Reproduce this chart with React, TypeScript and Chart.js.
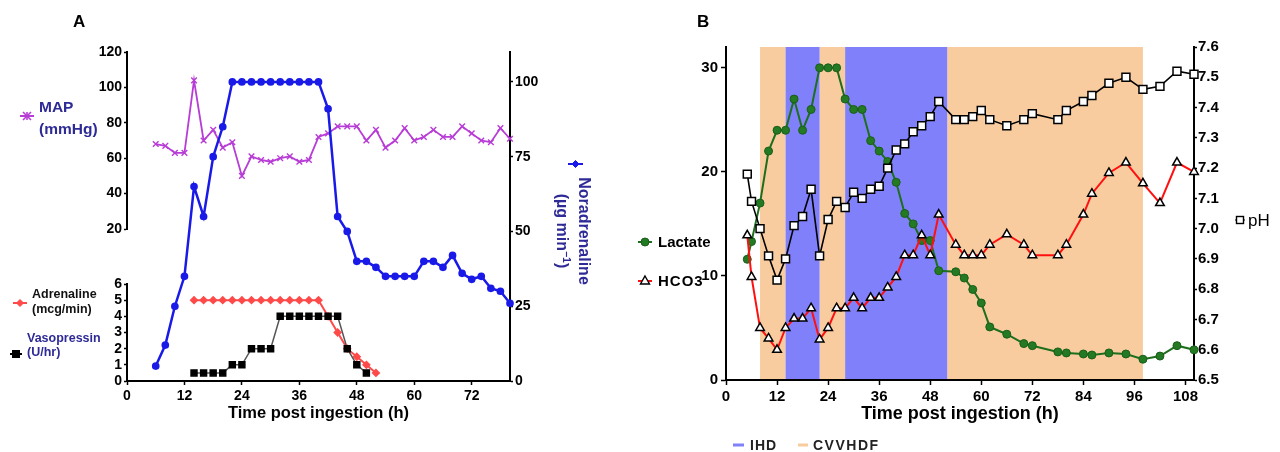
import React, { useEffect, useRef } from "react";
import { Chart, registerables } from "chart.js";
Chart.register(...registerables);

const FONT = "Arial, 'Liberation Sans', Helvetica, sans-serif";

// ---------------- Panel A data ----------------
const aTicksX = [0, 12, 24, 36, 48, 60, 72];
const aTicksMAP = [20, 40, 60, 80, 100, 120];
const aTicksDrug = [0, 1, 2, 3, 4, 5, 6];
const aTicksNor = [0, 25, 50, 75, 100];

const mapHours = [6, 8, 10, 12, 14, 16, 18, 20, 22, 24, 26, 28, 30, 32, 34, 36, 38, 40, 42, 44, 46, 48, 50, 52, 54, 56, 58, 60, 62, 64, 66, 68, 70, 72, 74, 76, 78, 80];
const mapValues = [68, 67, 63, 63, 104, 70, 76, 66, 69, 50, 61, 59, 58, 60, 61, 58, 59, 72, 74, 78, 78, 78, 70, 76, 66, 70, 77, 70, 72, 76, 72, 72, 78, 74, 70, 69, 77, 71];

const norHours = [6, 8, 10, 12, 14, 16, 18, 20, 22, 24, 26, 28, 30, 32, 34, 36, 38, 40, 42, 44, 46, 48, 50, 52, 54, 56, 58, 60, 62, 64, 66, 68, 70, 72, 74, 76, 78, 80];
const norValues = [5, 12, 25, 35, 65, 55, 75, 85, 100, 100, 100, 100, 100, 100, 100, 100, 100, 100, 91, 55, 50, 40, 40, 38, 35, 35, 35, 35, 40, 40, 38, 42, 36, 34, 35, 31, 30, 26];

const adrHours = [14, 16, 18, 20, 22, 24, 26, 28, 30, 32, 34, 36, 38, 40, 42, 44, 46, 48, 50, 52];
const adrValues = [5, 5, 5, 5, 5, 5, 5, 5, 5, 5, 5, 5, 5, 5, 4, 3, 2, 1.5, 1, 0.5];

const vasoHours = [14, 16, 18, 20, 22, 24, 26, 28, 30, 32, 34, 36, 38, 40, 42, 44, 46, 48, 50];
const vasoValues = [0.5, 0.5, 0.5, 0.5, 1, 1, 2, 2, 2, 4, 4, 4, 4, 4, 4, 4, 2, 1, 0.5];

// ---------------- Panel B data ----------------
const bTicksX = [0, 12, 24, 36, 48, 60, 72, 84, 96, 108];
const bTicksLeft = [0, 10, 20, 30];
const bTicksPH = [6.5, 6.6, 6.7, 6.8, 6.9, 7.0, 7.1, 7.2, 7.3, 7.4, 7.5, 7.6];

const bHours = [5, 6, 8, 10, 12, 14, 16, 18, 20, 22, 24, 26, 28, 30, 32, 34, 36, 38, 40, 42, 44, 46, 48, 50, 54, 56, 58, 60, 62, 66, 70, 72, 78, 80, 84, 86, 90, 94, 98, 102, 106, 110];
const lactateValues = [11.6, 13.3, 17, 22, 24, 24, 27, 24, 26, 30, 30, 30, 27, 26, 26, 23, 22, 21, 19, 16, 15, 13.4, 13.4, 10.5, 10.4, 9.8, 8.7, 7.4, 5.1, 4.4, 3.5, 3.3, 2.7, 2.6, 2.5, 2.4, 2.6, 2.5, 2.0, 2.3, 3.3, 2.9];
const hco3Values = [13.9, 9.9, 5, 4, 2.9, 5, 5.9, 5.9, 6.9, 3.9, 5, 6.9, 6.9, 7.9, 6.9, 7.9, 7.9, 8.9, 9.9, 12, 12, 13.9, 12, 15.9, 13, 12, 12, 12, 13, 14, 13, 12, 12, 13, 15.9, 17.9, 19.9, 20.9, 18.9, 17, 20.9, 20];
const phValues = [7.18, 7.09, 7.0, 6.91, 6.83, 6.9, 7.01, 7.04, 7.13, 6.91, 7.03, 7.09, 7.07, 7.12, 7.1, 7.13, 7.14, 7.2, 7.26, 7.28, 7.32, 7.34, 7.37, 7.42, 7.36, 7.36, 7.37, 7.39, 7.36, 7.34, 7.36, 7.38, 7.36, 7.39, 7.42, 7.44, 7.48, 7.5, 7.46, 7.47, 7.52, 7.51];

const ihdBands = [[14, 22], [28, 52]];
const cvvhdfBands = [[8, 14], [22, 28], [52, 98]];

// ---------------- styles ----------------
const IHD_COLOR = "#8080fb";
const CVV_COLOR = "#f9cc9f";
const NAVY = "#2e2a96";
const MAP_COLOR = "#b83cd6";
const NOR_COLOR = "#1a1ae8";
const ADR_COLOR = "#ff4a4a";
const LAC_COLOR = "#1d6e1d";

const pts = (xs: number[], ys: number[]) => xs.map((x, i) => ({ x, y: ys[i] }));
const fixedTicks = (vals: number[]) => (s: any) => {
  s.ticks = vals.map((v) => ({ value: v }));
};

function axis(vals: number[], size: number, tickLen: number, pad: number, fmt?: (v: number) => string) {
  return {
    border: { display: true, color: "#000", width: 2 },
    grid: {
      display: true,
      drawOnChartArea: false,
      drawTicks: true,
      tickLength: tickLen,
      tickWidth: 1.5,
      tickColor: "#000",
      color: "#000",
    },
    ticks: {
      color: "#000",
      font: { family: FONT, size, weight: "bold" },
      padding: pad,
      autoSkip: false,
      maxRotation: 0,
      callback: (v: any) => (fmt ? fmt(Number(v)) : String(v)),
    },
    afterBuildTicks: fixedTicks(vals),
  };
}

const bandPlugin = {
  id: "bands",
  beforeDraw(chart: any) {
    const { ctx, chartArea, scales } = chart;
    const x = scales.x;
    ctx.save();
    const draw = (bands: number[][], color: string) =>
      bands.forEach(([s, e]) => {
        const x1 = x.getPixelForValue(s);
        const x2 = x.getPixelForValue(e);
        ctx.fillStyle = color;
        ctx.fillRect(x1, chartArea.top, x2 - x1, chartArea.bottom - chartArea.top);
      });
    draw(cvvhdfBands, CVV_COLOR);
    draw(ihdBands, IHD_COLOR);
    ctx.restore();
  },
};

function PanelA() {
  const ref = useRef<HTMLCanvasElement>(null);
  useEffect(() => {
    const chart = new Chart(ref.current as HTMLCanvasElement, {
      type: "line",
      data: {
        datasets: [
          {
            label: "Noradrenaline",
            data: pts(norHours, norValues),
            yAxisID: "yNor",
            borderColor: NOR_COLOR,
            backgroundColor: NOR_COLOR,
            borderWidth: 2.5,
            pointRadius: 2.6,
            pointStyle: "circle",
            clip: false,
          } as any,
          {
            label: "Vasopressin",
            data: pts(vasoHours, vasoValues),
            yAxisID: "yDrug",
            borderColor: "#555555",
            borderWidth: 1.5,
            pointBackgroundColor: "#000",
            pointBorderColor: "#000",
            pointStyle: "rect",
            pointRadius: 4.2,
            clip: false,
          },
          {
            label: "Adrenaline",
            data: pts(adrHours, adrValues),
            yAxisID: "yDrug",
            borderColor: ADR_COLOR,
            backgroundColor: ADR_COLOR,
            borderWidth: 2,
            pointStyle: "rectRot",
            pointRadius: 3,
            clip: false,
          },
          {
            label: "MAP",
            data: pts(mapHours, mapValues),
            yAxisID: "yMAP",
            borderColor: MAP_COLOR,
            backgroundColor: MAP_COLOR,
            borderWidth: 1.8,
            pointStyle: "crossRot",
            pointRadius: 4,
            pointBorderWidth: 1.4,
            clip: false,
          },
        ],
      },
      options: {
        responsive: false,
        animation: false,
        devicePixelRatio: 1,
        events: [],
        layout: { padding: { top: 52, left: 0, right: 0, bottom: 0 } },
        plugins: { legend: { display: false }, tooltip: { enabled: false } },
        scales: {
          x: {
            type: "linear",
            min: 0,
            max: 80,
            ...axis(aTicksX, 14, 4, 3),
            afterFit: (s: any) => {
              s.height = 71;
            },
            title: {
              display: true,
              text: "Time post ingestion (h)",
              color: "#000",
              font: { family: FONT, size: 16.5, weight: "bold" },
              padding: { top: 0, bottom: 29 },
            },
          },
          yDrug: {
            type: "linear",
            position: "left",
            stack: "L",
            stackWeight: 97,
            min: 0,
            max: 6,
            ...axis(aTicksDrug, 14, 3, 2),
            afterFit: (s: any) => {
              s.width = 127;
            },
          },
          yGap: {
            type: "linear",
            position: "left",
            stack: "L",
            stackWeight: 55,
            min: 0,
            max: 1,
            border: { display: false },
            grid: { display: false },
            ticks: { display: false },
            afterFit: (s: any) => {
              s.width = 127;
            },
          },
          yMAP: {
            type: "linear",
            position: "left",
            stack: "L",
            stackWeight: 177,
            min: 20,
            max: 120,
            ...axis(aTicksMAP, 14, 3, 2),
            afterFit: (s: any) => {
              s.width = 127;
            },
          },
          yNor: {
            type: "linear",
            position: "right",
            min: 0,
            max: 110,
            ...axis(aTicksNor, 14, 3, 2),
            afterFit: (s: any) => {
              s.width = 130;
            },
          },
        } as any,
      },
    });
    return () => chart.destroy();
  }, []);
  return (
    <canvas
      ref={ref}
      width={640}
      height={452}
      style={{ position: "absolute", left: 0, top: 0, width: 640, height: 452 }}
    />
  );
}

function PanelB() {
  const ref = useRef<HTMLCanvasElement>(null);
  useEffect(() => {
    const chart = new Chart(ref.current as HTMLCanvasElement, {
      type: "line",
      data: {
        datasets: [
          {
            label: "pH",
            data: pts(bHours, phValues),
            yAxisID: "yR",
            borderColor: "#000",
            borderWidth: 1.6,
            pointStyle: "rect",
            pointRadius: 5.6,
            pointBackgroundColor: "#fff",
            pointBorderColor: "#000",
            pointBorderWidth: 1.5,
            clip: false,
          } as any,
          {
            label: "HCO3",
            data: pts(bHours, hco3Values),
            yAxisID: "yL",
            borderColor: "#ff1010",
            borderWidth: 2,
            pointStyle: "triangle",
            pointRadius: 5,
            pointBackgroundColor: "#fff",
            pointBorderColor: "#000",
            pointBorderWidth: 1.5,
            clip: false,
          },
          {
            label: "Lactate",
            data: pts(bHours, lactateValues),
            yAxisID: "yL",
            borderColor: LAC_COLOR,
            borderWidth: 2,
            pointStyle: "circle",
            pointRadius: 4,
            pointBackgroundColor: "#237a23",
            pointBorderColor: "#1a5e1a",
            pointBorderWidth: 1,
            clip: false,
          },
        ],
      },
      options: {
        responsive: false,
        animation: false,
        devicePixelRatio: 1,
        events: [],
        layout: { padding: { top: 47, left: 0, right: 0, bottom: 0 } },
        plugins: { legend: { display: false }, tooltip: { enabled: false } },
        scales: {
          x: {
            type: "linear",
            min: 0,
            max: 110,
            ...axis(bTicksX, 15, 5, 3),
            afterFit: (s: any) => {
              s.height = 72;
            },
            title: {
              display: true,
              text: "Time post ingestion (h)",
              color: "#000",
              font: { family: FONT, size: 18, weight: "bold" },
              padding: { top: 0, bottom: 27 },
            },
          },
          yL: {
            type: "linear",
            position: "left",
            min: 0,
            max: 32,
            ...axis(bTicksLeft, 15, 5, 3),
            afterFit: (s: any) => {
              s.width = 86;
            },
          },
          yR: {
            type: "linear",
            position: "right",
            min: 6.5,
            max: 7.6,
            ...axis(bTicksPH, 15, 3, 1, (v) => v.toFixed(1)),
            afterFit: (s: any) => {
              s.width = 86;
            },
          },
        } as any,
      },
      plugins: [bandPlugin],
    });
    return () => chart.destroy();
  }, []);
  return (
    <canvas
      ref={ref}
      width={640}
      height={452}
      style={{ position: "absolute", left: 640, top: 0, width: 640, height: 452 }}
    />
  );
}

function Txt(props: any) {
  const { left, top, size, weight = "bold", color = "#000", lh, ls, children } = props;
  return (
    <div
      style={{
        position: "absolute",
        left,
        top,
        fontFamily: FONT,
        fontSize: size,
        fontWeight: weight,
        color,
        lineHeight: (lh ?? size) + "px",
        whiteSpace: "nowrap",
        letterSpacing: ls,
      }}
    >
      {children}
    </div>
  );
}

function Mk(props: any) {
  const { cx, cy, w = 14, line, lw = 2, shape, fill, stroke, s = 4, sw = 1 } = props;
  const W = w + 14;
  const H = 18;
  const c = W / 2;
  const m = H / 2;
  let shp: any = null;
  if (shape === "circle") shp = <circle cx={c} cy={m} r={s} fill={fill} stroke={stroke} strokeWidth={sw} />;
  if (shape === "rect")
    shp = <rect x={c - s} y={m - s} width={2 * s} height={2 * s} fill={fill} stroke={stroke} strokeWidth={sw} />;
  if (shape === "diamond")
    shp = (
      <polygon
        points={`${c},${m - s} ${c + s},${m} ${c},${m + s} ${c - s},${m}`}
        fill={fill}
        stroke={stroke}
        strokeWidth={sw}
      />
    );
  if (shape === "tri")
    shp = (
      <polygon
        points={`${c},${m - s} ${c + s * 0.9},${m + s * 0.6} ${c - s * 0.9},${m + s * 0.6}`}
        fill={fill}
        stroke={stroke}
        strokeWidth={sw}
      />
    );
  if (shape === "star")
    shp = (
      <g stroke={stroke} strokeWidth={sw}>
        <line x1={c - s} y1={m - s} x2={c + s} y2={m + s} />
        <line x1={c - s} y1={m + s} x2={c + s} y2={m - s} />
        <line x1={c} y1={m - s} x2={c} y2={m + s} />
      </g>
    );
  return (
    <svg style={{ position: "absolute", left: cx - c, top: cy - m }} width={W} height={H}>
      {line && <line x1={c - w / 2} y1={m} x2={c + w / 2} y2={m} stroke={line} strokeWidth={lw} />}
      {shp}
    </svg>
  );
}

export default function App() {
  return (
    <div
      style={{
        position: "absolute",
        left: 0,
        top: 0,
        width: 1280,
        height: 452,
        background: "#fff",
        overflow: "hidden",
      }}
    >
      <PanelA />
      <PanelB />

      {/* panel labels */}
      <Txt left={73} top={13} size={17}>A</Txt>
      <Txt left={697} top={13} size={17}>B</Txt>

      {/* Panel A legends */}
      <Mk cx={27} cy={116} w={14} line={MAP_COLOR} lw={2} shape="star" stroke={MAP_COLOR} s={4} sw={1.6} />
      <Txt left={39} top={95.6} size={15.5} lh={22} color={NAVY}>
        MAP<br />(mmHg)
      </Txt>

      <Mk cx={20} cy={303} w={14} line={ADR_COLOR} lw={2} shape="diamond" fill={ADR_COLOR} stroke={ADR_COLOR} s={3.5} />
      <Txt left={32} top={287.3} size={12.5} lh={15} color="#111">
        Adrenaline<br />(mcg/min)
      </Txt>

      <Mk cx={16} cy={354} w={12} line="#000" lw={2} shape="rect" fill="#000" stroke="#000" s={3.5} />
      <Txt left={27} top={330.5} size={12.5} lh={14} color={NAVY}>
        Vasopressin<br />(U/hr)
      </Txt>

      <Mk cx={575.5} cy={163.5} w={15} line={NOR_COLOR} lw={2} shape="diamond" fill={NOR_COLOR} stroke={NOR_COLOR} s={3.5} />
      <div
        style={{
          position: "absolute",
          left: 572.5 - 80,
          top: 231 - 22,
          width: 160,
          height: 44,
          transform: "rotate(90deg)",
          transformOrigin: "center",
          textAlign: "center",
          fontFamily: FONT,
          fontSize: 16,
          fontWeight: "bold",
          color: NAVY,
          lineHeight: "22px",
          whiteSpace: "nowrap",
        }}
      >
        Noradrenaline
        <br />
        (µg min<span style={{ fontSize: 10.5, position: "relative", top: -6 }}>−1</span>)
      </div>

      {/* Panel B legends */}
      <Mk cx={645} cy={242} w={14} line={LAC_COLOR} lw={2} shape="circle" fill="#237a23" stroke="#1a5e1a" s={4} />
      <Txt left={658} top={234.3} size={15}>Lactate</Txt>

      <Mk cx={645} cy={281} w={14} line="#ff1010" lw={2} shape="tri" fill="#fff" stroke="#000" s={5} sw={1.4} />
      <Txt left={658} top={273.3} size={15} ls={1}>HCO3</Txt>

      <Mk cx={1240} cy={220} w={10} line="#000" lw={1} shape="rect" fill="#fff" stroke="#000" s={3.5} sw={1.4} />
      <Txt left={1248} top={211.6} size={17} weight="normal">pH</Txt>

      <Mk cx={738} cy={445} w={11} line={IHD_COLOR} lw={3} />
      <Txt left={750} top={438} size={14} color="#222" ls={1}>IHD</Txt>
      <Mk cx={803} cy={445} w={10} line={CVV_COLOR} lw={3} />
      <Txt left={813} top={438} size={14} color="#222" ls={1.5}>CVVHDF</Txt>
    </div>
  );
}
